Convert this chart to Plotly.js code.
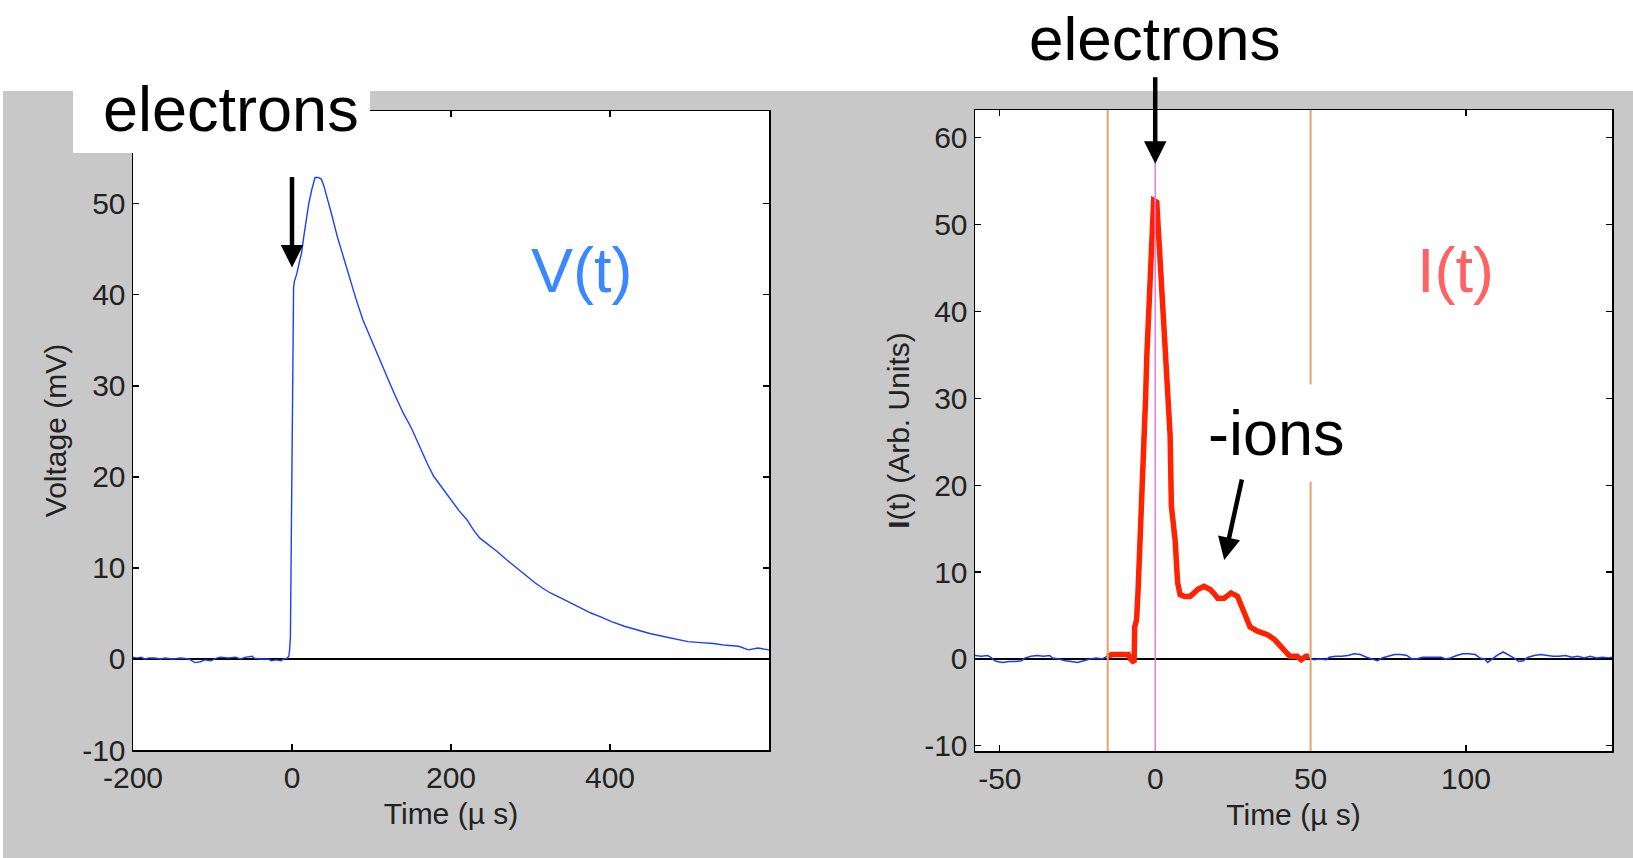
<!DOCTYPE html>
<html><head><meta charset="utf-8">
<script src="https://cdn.plot.ly/plotly-3.0.1.min.js"></script>
<style>html,body{margin:0;padding:0;background:#fff;} #chart{width:1633px;height:858px;}</style>
</head><body><div id="chart"></div>
<script>
// ---- V(t) trace (left panel) ----
const vTime = [-200,-195,-190,-185,-180,-173,-165,-160,-150,-140,
  -130,-125,-122,-115,-110,-102,-95,-90,-80,-71,
  -65,-58,-50,-48,-40,-30,-26,-20,-14,-10,
  -6,-4,-3,-2,-1.5,-1,-0.5,0,0.5,1,
  2,3,6,9,12,15,18,21,25,29,
  33,37,40,44,50,57,65,73,80,89,
  97,105,113,121,130,140,150,162,170,178,
  189,200,210,220,228,236,247,258,270,280,
  293,306,315,325,338,351,363,376,389,402,
  418,434,450,466,482,498,514,530,546,562,
  574,586,600];
const vVolt = [0.2,0.1,0.2,0,0.1,0.1,0,0.1,0,0.1,
  0,-0.3,-0.4,-0.3,-0.1,-0.2,0.1,0.2,0.1,0.2,
  0,0.2,0.3,0.1,0,0,-0.2,-0.1,-0.2,0,
  0.1,0.3,1.0,2.5,8,14,21,28,34,39,
  40.8,41.5,42.3,43.5,44.6,46.5,48.3,50.0,51.6,52.9,
  52.9,52.7,52.0,50.8,48.8,46.4,44.0,41.7,39.7,37.3,
  35.6,34.0,32.3,30.7,28.9,27.0,25.4,23.0,21.5,20.1,
  18.8,17.5,16.3,15.3,14.2,13.3,12.6,11.8,10.9,10.2,
  9.2,8.35,7.8,7.25,6.7,6.15,5.6,5.05,4.6,4.1,
  3.6,3.2,2.8,2.5,2.2,1.9,1.8,1.7,1.5,1.4,
  1.0,1.2,1.0];

// ---- I(t) trace (right panel): baseline noise outside the gate ----
const iNoiseTime = [-58,-56,-54,-53,-52,-51,-49,-47,-45,-43,
  -42,-40,-38,-36,-34,-33,-31,-29,-27,-25,
  -23,-21,-19,-17,-15.5,null,49.5,51,53,55,
  56,58,60,62,64,66,68,70,71.5,73,
  75,77,79,81,82.5,84,86,88,90,92,
  93.5,95,97,99,101,103,104.5,106,107,108.5,
  110,112,114,115.5,117,118.5,120,122,124,126,
  128,130,132,134,136,138,140,142,144,146,
  147];
const iNoiseVal = [0.4,0.3,0.4,0.2,-0.1,-0.3,-0.4,-0.3,-0.3,-0.2,
  0.1,0.3,0.4,0.3,0.4,0.1,0,-0.2,-0.3,-0.4,
  -0.2,0,0.1,0,0.3,null,0.2,-0.1,0,-0.1,
  0.2,0.3,0.3,0.4,0.6,0.5,0.2,0,-0.2,0.1,
  0.3,0.5,0.5,0.4,0,0,0.2,0.2,0.2,0.2,
  0,0.1,0.4,0.6,0.6,0.5,0.1,0,-0.4,0,
  0.4,0.8,0.4,0.1,-0.3,-0.2,0.2,0.4,0.5,0.4,
  0.3,0.3,0.4,0.2,0.3,0.1,0.3,0.1,0.2,0.1,
  0.2];

// ---- I(t) pulse inside the gate ----
const iPulseTime = [-15.5,-14,-12,-10,-8.7,-8,-7.2,-6.8,-6.6,-6,
  -5.5,-5,-4.4,-3.9,-3.4,-3.1,-2.7,-2.2,-1.6,-1.1,
  -0.5,0.5,1.1,1.8,2.4,3.1,3.7,4.3,4.8,5.2,
  6.4,7.2,8,9.5,11.2,12.5,13.6,15.7,17.7,19,
  20.1,22.2,23.5,24.4,26.5,28.1,29.3,30.5,32.9,36.1,
  38.5,40.9,42,43.3,45.7,47,48.5,49.5];
const iPulseVal = [0.3,0.5,0.5,0.5,0.5,0,-0.4,-0.4,3.7,4.5,
  8,12.2,16.6,21,25.7,30,34.9,39.7,44.9,49.9,
  52.8,52.6,48.8,45.3,41.5,37.6,33.7,29.9,25.7,17.6,
  13.7,8.8,7.4,7.2,7.2,7.6,8,8.35,8,7.5,
  7,7,7.4,7.6,7.2,5.7,4.6,3.7,3.2,2.8,
  2.2,1.2,0.7,0.3,0.3,-0.1,0.3,0.3];

const gateTimes = [-15.3, 50];
const peakTime = [0];
const xTicksV = [-200, 0, 200, 400];
const yTicksV = [-10, 0, 10, 20, 30, 40, 50];
const xTicksI = [-50, 0, 50, 100];
const yTicksI = [-10, 0, 10, 20, 30, 40, 50, 60];

const W = 1633, H = 858;
const px = x => x / W;
const py = y => 1 - y / H;
const FONT = 'Liberation Sans, Arial, Helvetica, sans-serif';

function axisBase(vals, extra) {
  return Object.assign({
    showline: true, linecolor: '#000', linewidth: 1.5, mirror: 'allticks',
    ticks: 'inside', ticklen: 6, tickwidth: 1.2, tickcolor: '#000',
    showgrid: false, zeroline: false,
    tickfont: {family: FONT, size: 30, color: '#222'},
    tickmode: 'array', tickvals: vals, ticktext: vals.map(v => String(v)),
    fixedrange: true
  }, extra);
}

const traces = [
  {x: vTime, y: vVolt, xaxis: 'x', yaxis: 'y', mode: 'lines',
   line: {color: '#1a40ff', width: 1.4}, name: 'V(t)'},
  {x: iNoiseTime, y: iNoiseVal, xaxis: 'x2', yaxis: 'y2', mode: 'lines',
   line: {color: '#1a3cf0', width: 1.5}, name: 'I(t) baseline', connectgaps: false},
  {x: iPulseTime, y: iPulseVal, xaxis: 'x2', yaxis: 'y2', mode: 'lines',
   line: {color: '#ff2200', width: 5.5}, name: 'I(t)'}
];

const shapes = [
  {type: 'rect', xref: 'paper', yref: 'paper', x0: px(3), x1: 1, y0: 0, y1: py(91),
   fillcolor: '#c8c8c8', line: {width: 0}, layer: 'below'},
  {type: 'rect', xref: 'x domain', yref: 'y domain', x0: 0, x1: 1, y0: 0, y1: 1,
   fillcolor: '#fff', line: {width: 0}, layer: 'below'},
  {type: 'rect', xref: 'x2 domain', yref: 'y2 domain', x0: 0, x1: 1, y0: 0, y1: 1,
   fillcolor: '#fff', line: {width: 0}, layer: 'below'},
  {type: 'rect', xref: 'paper', yref: 'paper', x0: px(73), x1: px(370), y0: py(153), y1: py(91),
   fillcolor: '#fff', line: {width: 0}, layer: 'above'}
];
gateTimes.forEach(t => shapes.push({type: 'line', xref: 'x2', yref: 'y2 domain', x0: t, x1: t, y0: 0, y1: 1,
  line: {color: '#e0a46e', width: 2}, layer: 'above'}));
peakTime.forEach(t => shapes.push({type: 'line', xref: 'x2', yref: 'y2 domain', x0: t, x1: t, y0: 0, y1: 1,
  line: {color: '#e07ee0', width: 1.5}, layer: 'above'}));

const big = (c, s) => ({family: FONT, size: s || 63, color: c});
const annotations = [
  {xref: 'paper', yref: 'paper', x: px(231), y: py(109.5), text: 'electrons', showarrow: false,
   xanchor: 'center', yanchor: 'middle', font: big('#000')},
  {xref: 'paper', yref: 'paper', x: px(1154.5), y: py(39), text: 'electrons', showarrow: false,
   xanchor: 'center', yanchor: 'middle', font: big('#000', 62), borderpad: 0},
  {xref: 'paper', yref: 'paper', x: px(1276), y: py(433), text: '-ions', showarrow: false,
   xanchor: 'center', yanchor: 'middle', font: big('#000'), bgcolor: '#fff', borderpad: 13},
  {xref: 'paper', yref: 'paper', x: px(581.5), y: py(270), text: 'V(t)', showarrow: false,
   xanchor: 'center', yanchor: 'middle', font: big('#3a87ff')},
  {xref: 'paper', yref: 'paper', x: px(1455.8), y: py(270), text: 'I(t)', showarrow: false,
   xanchor: 'center', yanchor: 'middle', font: big('#ff6262')},
  {xref: 'x', yref: 'y', x: 0, y: 43, ax: 0, ay: -92, text: '', showarrow: true,
   arrowhead: 2, arrowsize: 1, arrowwidth: 4.5, arrowcolor: '#000', standoff: 0},
  {xref: 'x2', yref: 'y2', x: 0, y: 57, ax: 0, ay: -88, text: '', showarrow: true,
   arrowhead: 2, arrowsize: 1, arrowwidth: 4.5, arrowcolor: '#000', standoff: 0},
  {xref: 'x2', yref: 'y2', x: 22.2, y: 11.4, ax: 18, ay: -82, text: '', showarrow: true,
   arrowhead: 2, arrowsize: 1, arrowwidth: 4.5, arrowcolor: '#000', standoff: 0}
];

const titleFont = {family: FONT, size: 30, color: '#222'};
const layout = {
  width: W, height: H, margin: {l: 0, r: 0, t: 0, b: 0},
  paper_bgcolor: '#fff', plot_bgcolor: 'rgba(0,0,0,0)',
  showlegend: false, hovermode: false,
  font: {family: FONT},
  xaxis: axisBase(xTicksV, {domain: [px(133), px(769)], range: [-200, 600],
    anchor: 'y', title: {text: 'Time (µ s)', font: titleFont, standoff: 10}}),
  yaxis: axisBase(yTicksV, {domain: [py(750), py(111)], range: [-10, 60.2],
    anchor: 'x', zeroline: true, zerolinecolor: '#000', zerolinewidth: 2,
    title: {text: 'Voltage (mV)', font: titleFont, standoff: 6}}),
  xaxis2: axisBase(xTicksI, {domain: [px(975), px(1612)], range: [-58, 147],
    anchor: 'y2', title: {text: 'Time (µ s)', font: titleFont, standoff: 10}}),
  yaxis2: axisBase(yTicksI, {domain: [py(751), py(110)], range: [-10.6, 63.2],
    anchor: 'x2', zeroline: true, zerolinecolor: '#000', zerolinewidth: 2,
    title: {text: '<b>I</b>(t) (Arb. Units)', font: titleFont, standoff: 5}}),
  shapes: shapes,
  annotations: annotations
};

Plotly.newPlot('chart', traces, layout, {staticPlot: true, displayModeBar: false});
</script>
</body></html>
